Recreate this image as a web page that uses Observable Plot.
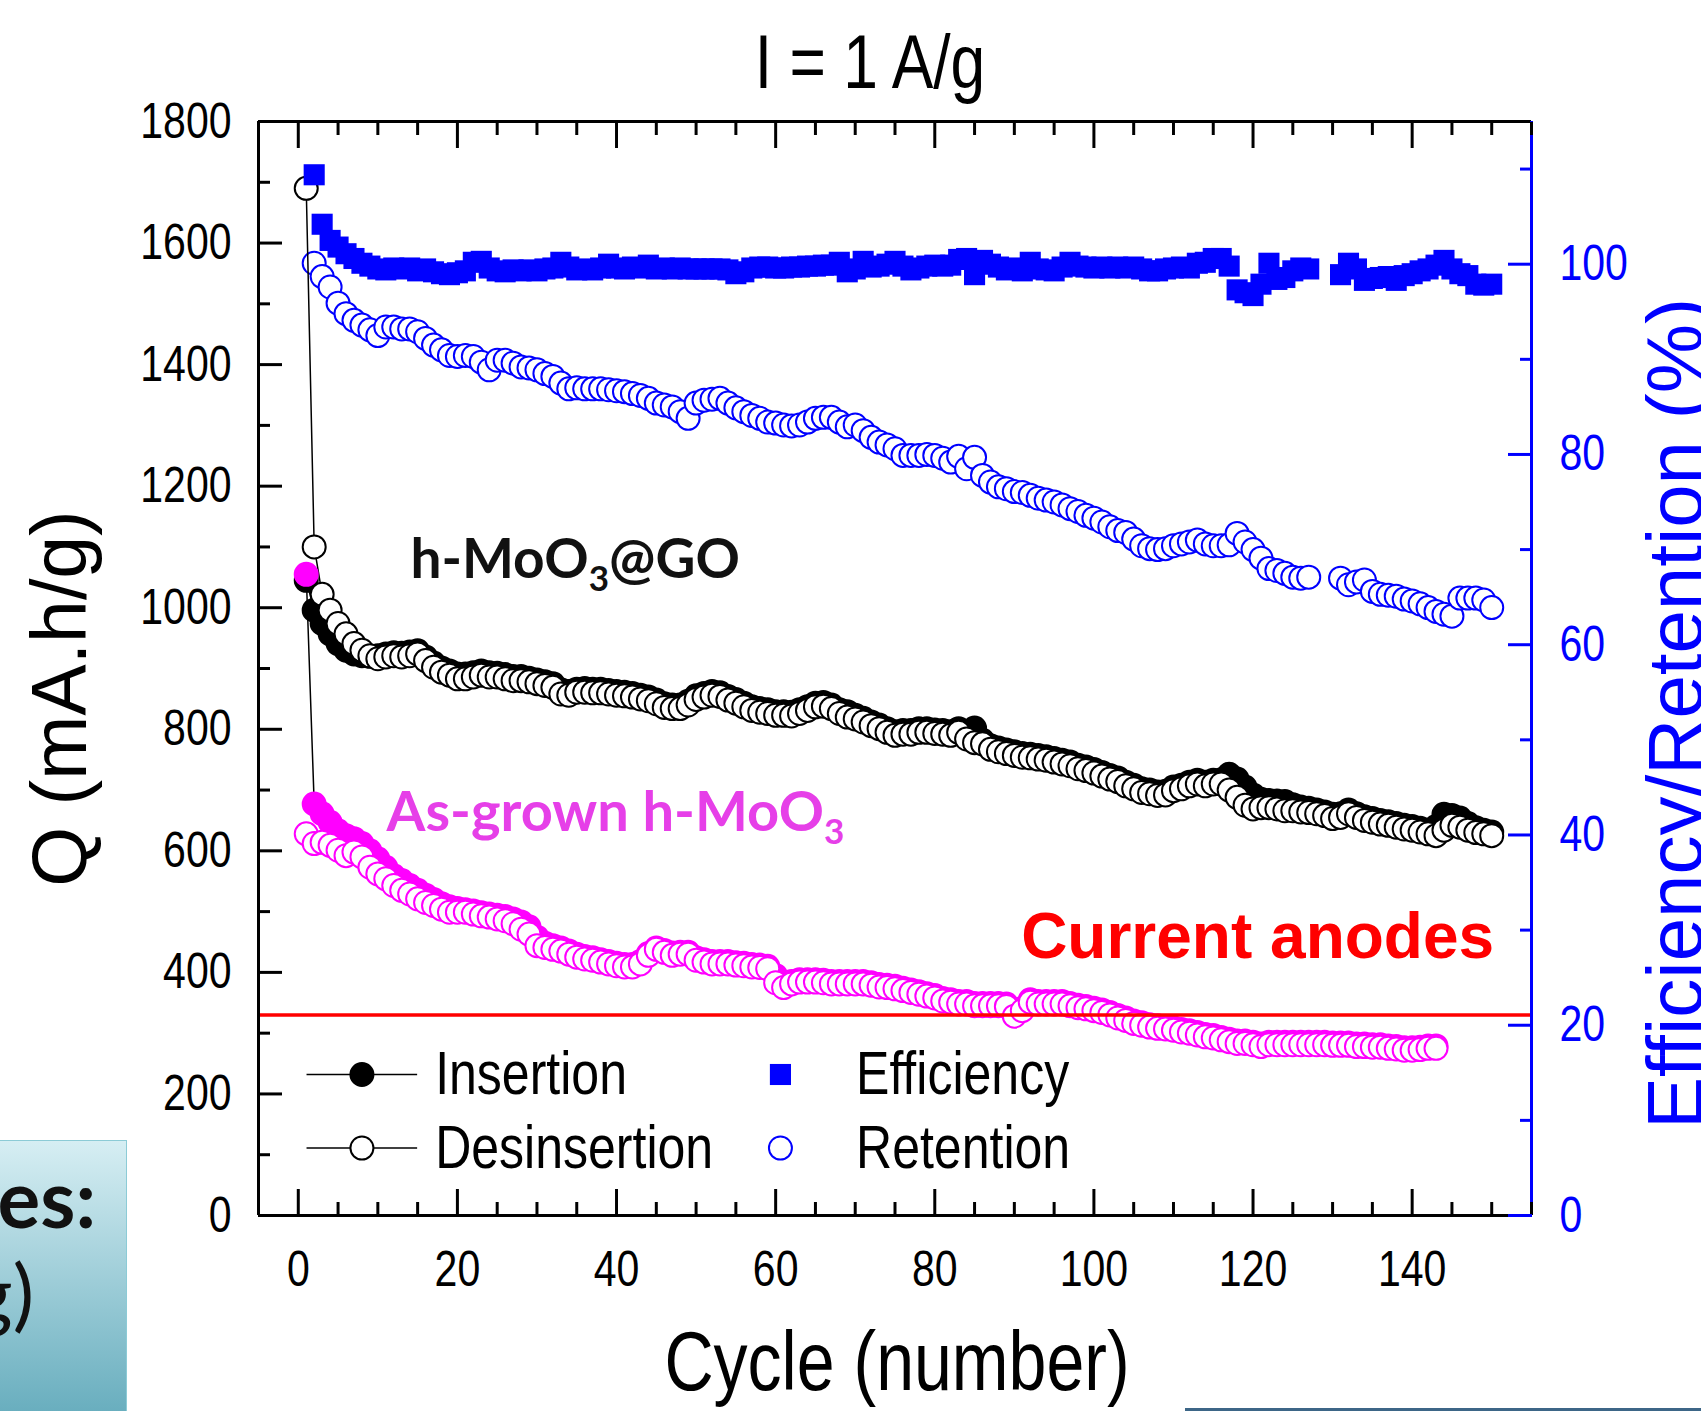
<!DOCTYPE html>
<html>
<head>
<meta charset="utf-8">
<script src="https://cdn.jsdelivr.net/npm/d3@7"></script>
<script src="https://cdn.jsdelivr.net/npm/@observablehq/plot@0.6"></script>
<style>
  html, body { margin: 0; padding: 0; background: #fff; }
  #wrap { position: relative; width: 1701px; height: 1411px; overflow: hidden; background: #fff; }
  #wrap svg { position: absolute; left: 0; top: 0; }
  .slidebox { position: absolute; left: -3px; top: 1140px; width: 130px; height: 290px;
    border: 1.5px solid #8ccbd6; box-sizing: border-box;
    background: linear-gradient(#d6eef3, #62aabb); overflow: hidden; }
  .slidetxt { position: absolute; width: 300px; text-align: right; font-family: Lato, "Noto Sans", sans-serif;
    font-size: 80px; line-height: 80px; color: #111; white-space: nowrap; }
  .slideline { position: absolute; left: 1185px; top: 1408px; width: 516px; height: 3px; background: #3d6687; }
</style>
</head>
<body>
<div id="wrap"></div>
<script>
// ---------------- data ----------------
// h-MoO3@GO, capacity in mA.h/g, cycles 1..150
const GO_insertion = [
  1045, 996, 974, 957, 941, 930, 924, 921, 920, 921,
  924, 926, 925, 927, 929, 919, 909, 901, 896, 891,
  891, 893, 896, 893, 892, 890, 887, 887, 884, 881,
  878, 875, 865, 862, 866, 867, 866, 866, 864, 862,
  861, 859, 856, 853, 848, 842, 840, 840, 846, 855,
  859, 862, 860, 854, 849, 843, 837, 834, 832, 829,
  829, 828, 832, 837, 843, 844, 840, 832, 829, 823,
  818, 812, 807, 801, 796, 798, 798, 801, 801, 799,
  798, 796, 801, 795, 802, 782, 773, 769, 766, 763,
  760, 759, 757, 755, 752, 749, 746, 741, 738, 734,
  729, 724, 720, 713, 708, 702, 700, 697, 698, 705,
  708, 713, 716, 713, 716, 717, 726, 718, 705, 692,
  685, 683, 682, 681, 676, 672, 670, 667, 664, 660,
  661, 667, 661, 656, 653, 650, 648, 645, 642, 640,
  637, 634, 640, 660, 658, 654, 645, 638, 634, 631
];
const GO_desinsertion = [
  1690, 1100, 1022, 996, 974, 957, 941, 930, 921, 916,
  919, 921, 919, 921, 924, 913, 902, 894, 889, 883,
  883, 886, 889, 886, 886, 883, 880, 880, 878, 875,
  872, 869, 858, 856, 861, 861, 860, 860, 858, 856,
  855, 853, 850, 847, 842, 836, 834, 834, 840, 849,
  853, 856, 854, 848, 843, 837, 831, 828, 826, 823,
  823, 822, 826, 831, 837, 838, 834, 826, 820, 817,
  812, 806, 801, 795, 790, 792, 792, 795, 795, 793,
  792, 790, 795, 784, 778, 776, 767, 763, 760, 757,
  754, 753, 751, 749, 746, 743, 740, 735, 732, 728,
  723, 718, 714, 707, 702, 696, 694, 691, 692, 699,
  702, 707, 710, 707, 710, 710, 700, 688, 675, 669,
  671, 671, 669, 666, 666, 664, 663, 661, 658, 653,
  655, 661, 655, 650, 647, 644, 642, 639, 636, 634,
  631, 628, 625, 634, 642, 639, 634, 630, 628, 625
];
// As-grown h-MoO3, capacity in mA.h/g, cycles 1..143
const AG_insertion = [
  1055, 677, 661, 647, 633, 625, 620, 612, 600, 587,
  573, 559, 551, 543, 535, 527, 520, 513, 508, 505,
  503, 501, 498, 496, 494, 492, 488, 483, 475, 458,
  448, 444, 440, 435, 430, 426, 424, 421, 418, 415,
  413, 413, 418, 431, 440, 436, 432, 433, 433, 424,
  421, 418, 418, 418, 416, 415, 413, 412, 410, 395,
  380, 385, 388, 388, 388, 387, 385, 385, 385, 385,
  385, 383, 380, 379, 377, 374, 371, 368, 365, 362,
  357, 355, 352, 352, 349, 349, 349, 349, 348, 335,
  341, 355, 352, 352, 352, 352, 349, 346, 344, 341,
  338, 334, 329, 325, 320, 317, 314, 312, 311, 309,
  306, 304, 301, 298, 296, 293, 290, 287, 287, 285,
  282, 285, 285, 285, 285, 285, 285, 285, 285, 284,
  284, 284, 282, 282, 281, 281, 279, 278, 276, 276,
  277, 279, 279
];
const AG_desinsertion = [
  628, 612, 614, 609, 601, 592, 598, 590, 573, 562,
  554, 543, 535, 529, 521, 515, 510, 504, 499, 499,
  499, 496, 493, 491, 488, 485, 480, 471, 463, 444,
  441, 438, 435, 430, 425, 422, 420, 417, 414, 411,
  409, 409, 414, 428, 438, 433, 428, 430, 430, 420,
  417, 414, 414, 414, 412, 411, 409, 408, 406, 383,
  375, 381, 384, 384, 384, 383, 381, 381, 381, 381,
  381, 379, 376, 375, 373, 370, 367, 364, 361, 358,
  353, 351, 348, 348, 345, 345, 345, 345, 344, 328,
  337, 351, 348, 348, 348, 348, 345, 342, 340, 337,
  334, 330, 325, 321, 316, 313, 310, 308, 307, 305,
  302, 300, 297, 294, 292, 289, 286, 283, 283, 281,
  278, 281, 281, 281, 281, 281, 281, 281, 281, 280,
  280, 280, 278, 278, 277, 277, 275, 274, 272, 272,
  273, 275, 275
];
// h-MoO3@GO efficiency and retention in %, cycles 1..150 (null = no point)
const efficiency = [
  null, 109.4, 104.2, 102.5, 101.8, 101.1, 100.6, 100.1, 99.8, 99.5,
  99.4, 99.6, 99.5, 99.6, 99.3, 99.5, 99.2, 99.0, 98.9, 99.1,
  99.3, 100.2, 100.3, 99.6, 99.3, 99.2, 99.4, 99.3, 99.4, 99.3,
  99.5, 99.6, 100.2, 99.7, 99.4, 99.5, 99.4, 99.6, 100.0, 99.6,
  99.5, 99.7, 99.6, 99.9, 99.5, 99.6, 99.5, 99.6, 99.5, 99.5,
  99.5, 99.5, 99.5, 99.4, 99.0, 99.2, 99.6, 99.7, 99.7, 99.6,
  99.6, 99.7, 99.7, 99.8, 99.8, 99.9, 99.9, 100.2, 99.2, 99.5,
  100.3, 99.7, 99.8, 100.0, 100.3, 99.8, 99.4, 99.6, 99.8, 99.9,
  99.8, 99.9, 100.5, 100.6, 98.9, 100.4, 100.0, 99.7, 99.4, 99.6,
  99.3, 100.2, 99.5, 99.4, 99.3, 99.7, 100.2, 99.8, 99.7, 99.6,
  99.7, 99.6, 99.7, 99.6, 99.7, 99.5, 99.3, 99.3, 99.5, 99.6,
  99.7, 99.6, 100.1, 100.2, 100.6, 100.6, 99.8, 97.3, 97.0, 96.7,
  97.9, 100.1, 98.4, 98.6, 99.3, 99.6, 99.5, null, null, null,
  98.9, 100.1, 99.5, 98.3, 98.5, 98.6, 98.7, 98.3, 98.8, 99.0,
  99.3, 99.5, 99.9, 100.4, 99.5, 99.0, 98.8, 97.9, 97.8, 97.9
];
const retention = [
  null, 100.1, 98.7, 97.6, 95.9, 94.8, 94.1, 93.6, 93.1, 92.5,
  93.4, 93.4, 93.2, 93.2, 92.9, 92.2, 91.5, 91.0, 90.4, 90.3,
  90.4, 90.3, 89.7, 88.9, 89.9, 89.9, 89.6, 89.2, 89.1, 88.9,
  88.5, 88.2, 87.5, 86.9, 87.0, 86.9, 86.9, 86.9, 86.8, 86.7,
  86.6, 86.4, 86.2, 85.9, 85.4, 85.2, 85.0, 84.5, 83.8, 85.4,
  85.7, 85.8, 85.9, 85.4, 84.9, 84.5, 84.1, 83.8, 83.4, 83.3,
  83.1, 83.0, 83.1, 83.4, 83.8, 83.9, 83.9, 83.4, 82.9, 83.1,
  82.5, 81.8, 81.3, 81.0, 80.6, 79.9, 79.9, 79.9, 80.0, 79.9,
  79.6, 79.2, 79.8, 78.5, 79.7, 77.8, 77.1, 76.6, 76.4, 76.1,
  76.0, 75.7, 75.4, 75.2, 75.0, 74.7, 74.3, 74.0, 73.6, 73.3,
  72.9, 72.4, 72.0, 71.8, 71.1, 70.4, 70.1, 70.0, 70.1, 70.4,
  70.6, 70.8, 71.0, 70.6, 70.4, 70.4, 70.5, 71.7, 70.8, 70.0,
  69.1, 68.0, 67.8, 67.5, 67.1, 67.0, 67.1, null, null, null,
  67.0, 66.3, 66.6, 66.8, 65.6, 65.3, 65.2, 65.1, 64.8, 64.6,
  64.3, 63.9, 63.5, 63.2, 63.0, 64.9, 64.9, 64.9, 64.7, 63.9
];
const currentAnodes = 330;                       // mA.h/g reference line
const xMajorTicks = [0, 20, 40, 60, 80, 100, 120, 140];
const xMinorTicks = [-5, 5, 10, 15, 25, 30, 35, 45, 50, 55, 65, 70, 75, 85, 90, 95, 105, 110, 115, 125, 130, 135, 145, 150, 155];
const yMajorTicks = [0, 200, 400, 600, 800, 1000, 1200, 1400, 1600, 1800];
const yMinorTicks = [100, 300, 500, 700, 900, 1100, 1300, 1500, 1700];
const rMajorTicks = [0, 20, 40, 60, 80, 100];
const rMinorTicks = [10, 30, 50, 70, 90, 110];
const legendLabels = ["Insertion", "Desinsertion", "Efficiency", "Retention"];

// ---------------- layout / style ----------------
const X_DOMAIN = [-5, 155], Y_DOMAIN = [0, 1800], R_MAX = 115;
const R2L = Y_DOMAIN[1] / R_MAX;          // right-axis % -> left-axis units
const SANS = '"Liberation Sans", Arial, sans-serif';
const GEO = 'Lato, "Noto Sans", sans-serif';
const BLUE = "#0000ff", MAG = "#ff00ff", RED = "#ff0000";
const R_DOT = 11.5, R_SQ = 11.9;
const CONDENSE = 0.82;                      // narrow-font emulation
const WIDE_TEXTS = new Set(["Q (mA.h/g)", "Efficiency/Retention (%)", "Current anodes"]);

const rows = (arr, key) => arr.map((v, i) => ({cycle: i + 1, [key]: v})).filter(d => d[key] != null);
const goIns = rows(GO_insertion, "q"), goDes = rows(GO_desinsertion, "q");
const agIns = rows(AG_insertion, "q"), agDes = rows(AG_desinsertion, "q");
const eff = rows(efficiency, "p"), ret = rows(retention, "p");

// legend placement (in chart coordinates)
const LEG = {row1: 232, row2: 111, lineX1: 1.1, lineX2: 15.0, symX: 8.0, textX: 17.2, sym2X: 60.6, text2X: 70.1};

const axisCommon = {label: null};
const plot = Plot.plot({
  width: 1701, height: 1411,
  marginLeft: 258, marginRight: 170, marginTop: 121, marginBottom: 196,
  x: {domain: X_DOMAIN},
  y: {domain: Y_DOMAIN},
  style: {fontFamily: SANS, color: "black", background: "transparent", overflow: "visible"},
  marks: [
    // retention (right axis)
    Plot.dot(ret, {x: "cycle", y: d => d.p * R2L, r: R_DOT, fill: "white", stroke: BLUE, strokeWidth: 2}),
    // h-MoO3@GO
    Plot.line(goIns, {x: "cycle", y: "q", stroke: "black", strokeWidth: 1.5}),
    Plot.dot(goIns, {x: "cycle", y: "q", r: R_DOT, fill: "black", stroke: "black", strokeWidth: 2}),
    Plot.line(goDes, {x: "cycle", y: "q", stroke: "black", strokeWidth: 1.5}),
    Plot.dot(goDes, {x: "cycle", y: "q", r: R_DOT, fill: "white", stroke: "black", strokeWidth: 2}),
    // as-grown h-MoO3
    Plot.line(agIns, {x: "cycle", y: "q", stroke: "black", strokeWidth: 1.5}),
    Plot.dot(agIns, {x: "cycle", y: "q", r: R_DOT, fill: MAG, stroke: MAG, strokeWidth: 2}),
    Plot.line(agDes, {x: "cycle", y: "q", stroke: "black", strokeWidth: 1.5}),
    Plot.dot(agDes, {x: "cycle", y: "q", r: R_DOT, fill: "white", stroke: MAG, strokeWidth: 2}),
    // efficiency (right axis)
    Plot.dot(eff, {x: "cycle", y: d => d.p * R2L, r: R_SQ, symbol: "square", fill: BLUE, stroke: "none"}),
    // current anodes line
    Plot.ruleY([currentAnodes], {stroke: RED, strokeWidth: 3.5}),
    // frame
    Plot.ruleY([Y_DOMAIN[0]], {stroke: "black", strokeWidth: 3}),
    Plot.ruleY([Y_DOMAIN[1]], {stroke: "black", strokeWidth: 3}),
    Plot.ruleX([X_DOMAIN[0]], {stroke: "black", strokeWidth: 3}),
    Plot.ruleX([X_DOMAIN[1]], {stroke: BLUE, strokeWidth: 3}),
    // bottom / top axes
    Plot.axisX(xMajorTicks, {...axisCommon, anchor: "bottom", tickSize: 0, tickPadding: 35, fontSize: 50, tickFormat: d => String(d)}),
    Plot.axisX(xMajorTicks, {...axisCommon, anchor: "bottom", tickSize: -26, strokeWidth: 3, fill: "none"}),
    Plot.axisX(xMinorTicks, {...axisCommon, anchor: "bottom", tickSize: -13, strokeWidth: 3, fill: "none"}),
    Plot.axisX(xMajorTicks, {...axisCommon, anchor: "top", tickSize: -26, strokeWidth: 3, fill: "none"}),
    Plot.axisX(xMinorTicks, {...axisCommon, anchor: "top", tickSize: -13, strokeWidth: 3, fill: "none"}),
    // left axis
    Plot.axisY(yMajorTicks, {...axisCommon, anchor: "left", tickSize: 0, tickPadding: 27, fontSize: 50, tickFormat: d => String(d)}),
    Plot.axisY(yMajorTicks, {...axisCommon, anchor: "left", tickSize: -24, strokeWidth: 3, fill: "none"}),
    Plot.axisY(yMinorTicks, {...axisCommon, anchor: "left", tickSize: -12, strokeWidth: 3, fill: "none"}),
    // right axis (percent)
    Plot.axisY(rMajorTicks.map(v => v * R2L), {...axisCommon, anchor: "right", tickSize: 0, tickPadding: 28, fontSize: 50, fill: BLUE, tickFormat: d => String(Math.round(d / R2L))}),
    Plot.axisY(rMajorTicks.map(v => v * R2L), {...axisCommon, anchor: "right", tickSize: -24, strokeWidth: 3, stroke: BLUE, fill: "none"}),
    Plot.axisY(rMinorTicks.map(v => v * R2L), {...axisCommon, anchor: "right", tickSize: -12, strokeWidth: 3, stroke: BLUE, fill: "none"}),
    // titles
    Plot.text(["I = 1 A/g"], {text: d => d, frameAnchor: "top", textAnchor: "middle", lineAnchor: "middle", dx: -25, dy: -58, fontSize: 76, fill: "black"}),
    Plot.text(["Cycle (number)"], {text: d => d, frameAnchor: "bottom", textAnchor: "middle", lineAnchor: "middle", dx: 2, dy: 148, fontSize: 83, fill: "black"}),
    Plot.text(["Q (mA.h/g)"], {text: d => d, frameAnchor: "left", textAnchor: "middle", lineAnchor: "middle", rotate: -90, dx: -197, dy: 30, fontSize: 77, fill: "black"}),
    Plot.text(["Efficiency/Retention (%)"], {text: d => d, frameAnchor: "right", textAnchor: "middle", lineAnchor: "middle", rotate: -90, dx: 146, dy: 45, fontSize: 78, fill: BLUE}),
    // in-plot annotations
    Plot.text(["h-MoO3@GO"], {text: d => d, x: 14.1, y: 1078, textAnchor: "start", fontSize: 55, fontWeight: 700, fontFamily: GEO, fill: "#111"}),
    Plot.text(["As-grown h-MoO3"], {text: d => d, x: 11.1, y: 662, textAnchor: "start", fontSize: 56, fontWeight: 700, fontFamily: GEO, fill: "#e63fe8"}),
    Plot.text(["Current anodes"], {text: d => d, x: 150.3, y: 457, textAnchor: "end", fontSize: 64, fontWeight: 700, fill: RED}),
    // legend
    Plot.ruleY([LEG.row1, LEG.row2], {x1: LEG.lineX1, x2: LEG.lineX2, stroke: "black", strokeWidth: 1.5}),
    Plot.dot([LEG.row1], {x: LEG.symX, y: d => d, r: R_DOT, fill: "black", stroke: "black", strokeWidth: 2}),
    Plot.dot([LEG.row2], {x: LEG.symX, y: d => d, r: R_DOT, fill: "white", stroke: "black", strokeWidth: 2}),
    Plot.dot([LEG.row1], {x: LEG.sym2X, y: d => d, r: R_SQ, symbol: "square", fill: BLUE, stroke: "none"}),
    Plot.dot([LEG.row2], {x: LEG.sym2X, y: d => d, r: R_DOT, fill: "white", stroke: BLUE, strokeWidth: 2}),
    Plot.text([0, 1], {x: LEG.textX, y: i => [LEG.row1, LEG.row2][i], text: i => legendLabels[i], textAnchor: "start", fontSize: 61, fill: "black"}),
    Plot.text([2, 3], {x: LEG.text2X, y: i => [LEG.row1, LEG.row2][i - 2], text: i => legendLabels[i], textAnchor: "start", fontSize: 61, fill: "black"})
  ]
});

const wrap = document.getElementById("wrap");
wrap.appendChild(plot);

// narrow-font emulation for the condensed texts of the original figure
d3.select(plot).selectAll("text").each(function () {
  const t = this.textContent;
  if (WIDE_TEXTS.has(t) || t.includes("MoO3")) return;
  const len = this.getComputedTextLength();
  if (len > 0) {
    this.setAttribute("textLength", (len * CONDENSE).toFixed(2));
    this.setAttribute("lengthAdjust", "spacingAndGlyphs");
  }
});

// chemical subscripts (MoO3)
d3.select(plot).selectAll("text").each(function () {
  const t = this.textContent;
  if (!t.includes("MoO3") || this.querySelector("tspan.sub")) return;
  const [a, b] = t.split("MoO3");
  const el = d3.select(this);
  el.text(null);
  el.append("tspan").text(a + "MoO");
  el.append("tspan").attr("class", "sub").attr("dy", 13).attr("font-size", 35).text("3");
  el.append("tspan").attr("dy", -13).text(b);
});

// slide fragments visible around the chart in the reference
const box = document.createElement("div"); box.className = "slidebox"; wrap.appendChild(box);
const t1 = document.createElement("div"); t1.className = "slidetxt"; t1.style.left = "-204px"; t1.style.top = "1157px"; t1.style.fontWeight = "700"; t1.textContent = "es:"; wrap.appendChild(t1);
const t2 = document.createElement("div"); t2.className = "slidetxt"; t2.style.left = "-266px"; t2.style.top = "1251px"; t2.textContent = "g)"; wrap.appendChild(t2);
const ln = document.createElement("div"); ln.className = "slideline"; wrap.appendChild(ln);
</script>
</body>
</html>
